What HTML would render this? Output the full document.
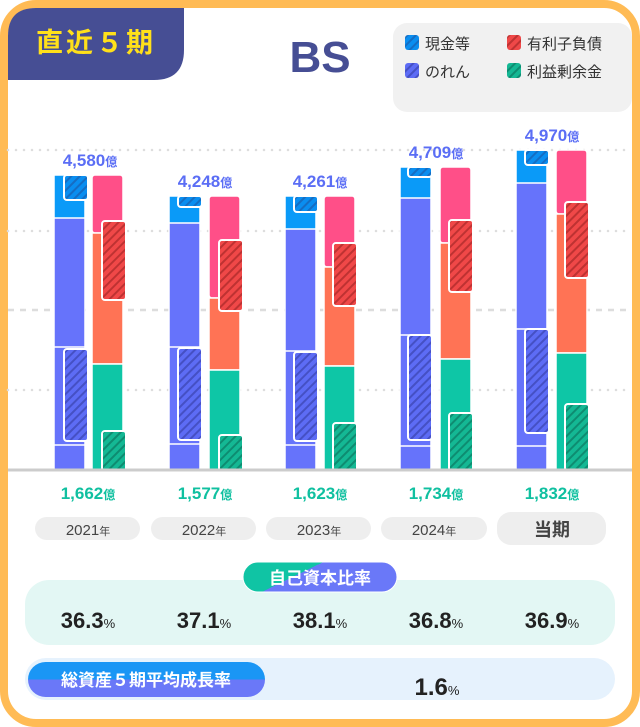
<!DOCTYPE html>
<html><head><meta charset="utf-8"><style>
body{margin:0;background:#fff;}
svg{display:block;font-family:"Liberation Sans","Noto Sans CJK JP",sans-serif;}
</style></head><body>
<svg width="640" height="727" viewBox="0 0 640 727" xmlns="http://www.w3.org/2000/svg">
<defs>
<pattern id="hb" width="6" height="6" patternUnits="userSpaceOnUse" patternTransform="rotate(45)"><rect width="6" height="6" fill="#0a8ef0"/><rect width="2" height="6" fill="#1a5fb0" opacity=".7"/></pattern>
<pattern id="hp" width="6" height="6" patternUnits="userSpaceOnUse" patternTransform="rotate(45)"><rect width="6" height="6" fill="#5d6cf5"/><rect width="2" height="6" fill="#3a44b0" opacity=".7"/></pattern>
<pattern id="hr" width="6" height="6" patternUnits="userSpaceOnUse" patternTransform="rotate(45)"><rect width="6" height="6" fill="#f04848"/><rect width="2" height="6" fill="#a82a2a" opacity=".7"/></pattern>
<pattern id="hg" width="6" height="6" patternUnits="userSpaceOnUse" patternTransform="rotate(45)"><rect width="6" height="6" fill="#14b894"/><rect width="2" height="6" fill="#0b7a62" opacity=".7"/></pattern>
<linearGradient id="g1" x1="0" y1="0" x2="1" y2="0.4"><stop offset="0.45" stop-color="#10c4a4"/><stop offset="0.45" stop-color="#6a78f8"/></linearGradient>
<linearGradient id="g2" x1="0" y1="0" x2="0" y2="1"><stop offset="0.5" stop-color="#1a96f5"/><stop offset="0.5" stop-color="#6a78f8"/></linearGradient>
</defs>
<rect x="4" y="4" width="632" height="719" rx="32" fill="#fff" stroke="#ffbb55" stroke-width="8"/>
<path d="M8 36 Q8 8 36 8 H184 V50 Q184 80 154 80 H8 Z" fill="#464e94"/>
<text x="96" y="52" text-anchor="middle" font-size="27" font-weight="bold" fill="#ffe01a" letter-spacing="3">直近５期</text>
<text x="320" y="72" text-anchor="middle" font-size="44" font-weight="bold" fill="#464e94">BS</text>
<rect x="393" y="23" width="239" height="89" rx="14" fill="#f1f1f1"/>
<g font-size="15" fill="#333">
<rect x="405" y="35" width="14" height="15" rx="3" fill="url(#hb)"/><text x="425" y="49">現金等</text>
<rect x="507" y="35" width="14" height="15" rx="3" fill="url(#hr)"/><text x="527" y="49">有利子負債</text>
<rect x="405" y="63" width="14" height="15" rx="3" fill="url(#hp)"/><text x="425" y="77">のれん</text>
<rect x="507" y="63" width="14" height="15" rx="3" fill="url(#hg)"/><text x="527" y="77">利益剰余金</text>
</g>
<g stroke="#ddd" stroke-width="2.5" stroke-linecap="round">
<line x1="8" y1="150" x2="632" y2="150" stroke-dasharray="0 8"/>
<line x1="8" y1="231" x2="632" y2="231" stroke-dasharray="0 8"/>
<line x1="8" y1="310" x2="632" y2="310" stroke-dasharray="6 6" stroke-linecap="butt"/>
<line x1="8" y1="390" x2="632" y2="390" stroke-dasharray="0 8"/>
</g>
<g id="bars" stroke="#fff" stroke-width="1.5">
<!-- 2021 -->
<rect x="54" y="175" width="31" height="296" rx="3" fill="#6673fb"/>
<rect x="54" y="175" width="31" height="43" fill="#0a9af8"/>
<line x1="54" y1="347" x2="85" y2="347"/><line x1="54" y1="445" x2="85" y2="445"/>
<rect x="64" y="175" width="24" height="25" rx="3" fill="url(#hb)" stroke-width="2"/>
<rect x="64" y="349" width="24" height="92" rx="3" fill="url(#hp)" stroke-width="2"/>
<rect x="92" y="175" width="31" height="58" rx="3" fill="#ff4f88"/>
<rect x="92" y="233" width="31" height="131" fill="#ff7355"/>
<rect x="92" y="364" width="31" height="107" fill="#0ec6a6"/>
<rect x="102" y="221" width="24" height="79" rx="3" fill="url(#hr)" stroke-width="2"/>
<rect x="102" y="431" width="24" height="40" rx="3" fill="url(#hg)" stroke-width="2"/>
<!-- 2022 -->
<rect x="169" y="196" width="31" height="275" rx="3" fill="#6673fb"/>
<rect x="169" y="196" width="31" height="27" fill="#0a9af8"/>
<line x1="169" y1="347" x2="200" y2="347"/><line x1="169" y1="444" x2="200" y2="444"/>
<rect x="178" y="196" width="24" height="11" rx="3" fill="url(#hb)" stroke-width="2"/>
<rect x="178" y="348" width="24" height="92" rx="3" fill="url(#hp)" stroke-width="2"/>
<rect x="209" y="196" width="31" height="102" rx="3" fill="#ff4f88"/>
<rect x="209" y="298" width="31" height="72" fill="#ff7355"/>
<rect x="209" y="370" width="31" height="101" fill="#0ec6a6"/>
<rect x="219" y="240" width="24" height="71" rx="3" fill="url(#hr)" stroke-width="2"/>
<rect x="219" y="435" width="24" height="36" rx="3" fill="url(#hg)" stroke-width="2"/>
<!-- 2023 -->
<rect x="285" y="196" width="31" height="275" rx="3" fill="#6673fb"/>
<rect x="285" y="196" width="31" height="33" fill="#0a9af8"/>
<line x1="285" y1="351" x2="316" y2="351"/><line x1="285" y1="445" x2="316" y2="445"/>
<rect x="294" y="196" width="24" height="16" rx="3" fill="url(#hb)" stroke-width="2"/>
<rect x="294" y="352" width="24" height="89" rx="3" fill="url(#hp)" stroke-width="2"/>
<rect x="324" y="196" width="31" height="71" rx="3" fill="#ff4f88"/>
<rect x="324" y="267" width="31" height="99" fill="#ff7355"/>
<rect x="324" y="366" width="31" height="105" fill="#0ec6a6"/>
<rect x="333" y="243" width="24" height="63" rx="3" fill="url(#hr)" stroke-width="2"/>
<rect x="333" y="423" width="24" height="48" rx="3" fill="url(#hg)" stroke-width="2"/>
<!-- 2024 -->
<rect x="400" y="167" width="31" height="304" rx="3" fill="#6673fb"/>
<rect x="400" y="167" width="31" height="31" fill="#0a9af8"/>
<line x1="400" y1="335" x2="431" y2="335"/><line x1="400" y1="446" x2="431" y2="446"/>
<rect x="408" y="167" width="24" height="10" rx="3" fill="url(#hb)" stroke-width="2"/>
<rect x="408" y="335" width="24" height="105" rx="3" fill="url(#hp)" stroke-width="2"/>
<rect x="440" y="167" width="31" height="76" rx="3" fill="#ff4f88"/>
<rect x="440" y="243" width="31" height="116" fill="#ff7355"/>
<rect x="440" y="359" width="31" height="112" fill="#0ec6a6"/>
<rect x="449" y="220" width="24" height="72" rx="3" fill="url(#hr)" stroke-width="2"/>
<rect x="449" y="413" width="24" height="58" rx="3" fill="url(#hg)" stroke-width="2"/>
<!-- 当期 -->
<rect x="516" y="150" width="31" height="321" rx="3" fill="#6673fb"/>
<rect x="516" y="150" width="31" height="33" fill="#0a9af8"/>
<line x1="516" y1="329" x2="547" y2="329"/><line x1="516" y1="446" x2="547" y2="446"/>
<rect x="525" y="150" width="24" height="15" rx="3" fill="url(#hb)" stroke-width="2"/>
<rect x="525" y="329" width="24" height="104" rx="3" fill="url(#hp)" stroke-width="2"/>
<rect x="556" y="150" width="31" height="64" rx="3" fill="#ff4f88"/>
<rect x="556" y="214" width="31" height="139" fill="#ff7355"/>
<rect x="556" y="353" width="31" height="118" fill="#0ec6a6"/>
<rect x="565" y="202" width="24" height="76" rx="3" fill="url(#hr)" stroke-width="2"/>
<rect x="565" y="404" width="24" height="67" rx="3" fill="url(#hg)" stroke-width="2"/>
</g>
<line x1="8" y1="470" x2="632" y2="470" stroke="#ccc" stroke-width="3"/>
<g font-weight="bold" fill="#5b6ef5" font-size="17" text-anchor="middle">
<text x="90" y="166">4,580<tspan font-size="12">億</tspan></text>
<text x="205" y="187">4,248<tspan font-size="12">億</tspan></text>
<text x="320" y="187">4,261<tspan font-size="12">億</tspan></text>
<text x="436" y="158">4,709<tspan font-size="12">億</tspan></text>
<text x="552" y="141">4,970<tspan font-size="12">億</tspan></text>
</g>
<g font-weight="bold" fill="#10c0a0" font-size="17" text-anchor="middle">
<text x="88" y="499">1,662<tspan font-size="12">億</tspan></text>
<text x="205" y="499">1,577<tspan font-size="12">億</tspan></text>
<text x="320" y="499">1,623<tspan font-size="12">億</tspan></text>
<text x="436" y="499">1,734<tspan font-size="12">億</tspan></text>
<text x="552" y="499">1,832<tspan font-size="12">億</tspan></text>
</g>
<g fill="#eee">
<rect x="35" y="517" width="105" height="23" rx="11.5"/>
<rect x="151" y="517" width="105" height="23" rx="11.5"/>
<rect x="266" y="517" width="105" height="23" rx="11.5"/>
<rect x="381" y="517" width="106" height="23" rx="11.5"/>
<rect x="497" y="512" width="109" height="33" rx="14"/>
</g>
<g fill="#444" font-size="15" text-anchor="middle">
<text x="88" y="535">2021<tspan font-size="11">年</tspan></text>
<text x="204" y="535">2022<tspan font-size="11">年</tspan></text>
<text x="319" y="535">2023<tspan font-size="11">年</tspan></text>
<text x="434" y="535">2024<tspan font-size="11">年</tspan></text>
<text x="552" y="536" font-size="18" font-weight="bold">当期</text>
</g>
<rect x="25" y="580" width="590" height="65" rx="24" fill="#e3f7f4"/>
<rect x="243" y="562" width="154" height="30" rx="15" fill="url(#g1)" stroke="#fff" stroke-width="1"/>
<text x="320" y="584" text-anchor="middle" font-size="17" font-weight="bold" fill="#fff">自己資本比率</text>
<g font-size="22" font-weight="bold" fill="#222" text-anchor="middle">
<text x="88" y="628">36.3<tspan font-size="13" font-weight="normal">%</tspan></text>
<text x="204" y="628">37.1<tspan font-size="13" font-weight="normal">%</tspan></text>
<text x="320" y="628">38.1<tspan font-size="13" font-weight="normal">%</tspan></text>
<text x="436" y="628">36.8<tspan font-size="13" font-weight="normal">%</tspan></text>
<text x="552" y="628">36.9<tspan font-size="13" font-weight="normal">%</tspan></text>
</g>
<rect x="25" y="658" width="590" height="42" rx="21" fill="#e6f2fd"/>
<rect x="28" y="662" width="237" height="35" rx="17.5" fill="url(#g2)"/>
<text x="146" y="686" text-anchor="middle" font-size="17" font-weight="bold" fill="#fff">総資産５期平均成長率</text>
<text x="437" y="695" text-anchor="middle" font-size="24" font-weight="bold" fill="#222">1.6<tspan font-size="13" font-weight="normal">%</tspan></text>
</svg>
</body></html>
